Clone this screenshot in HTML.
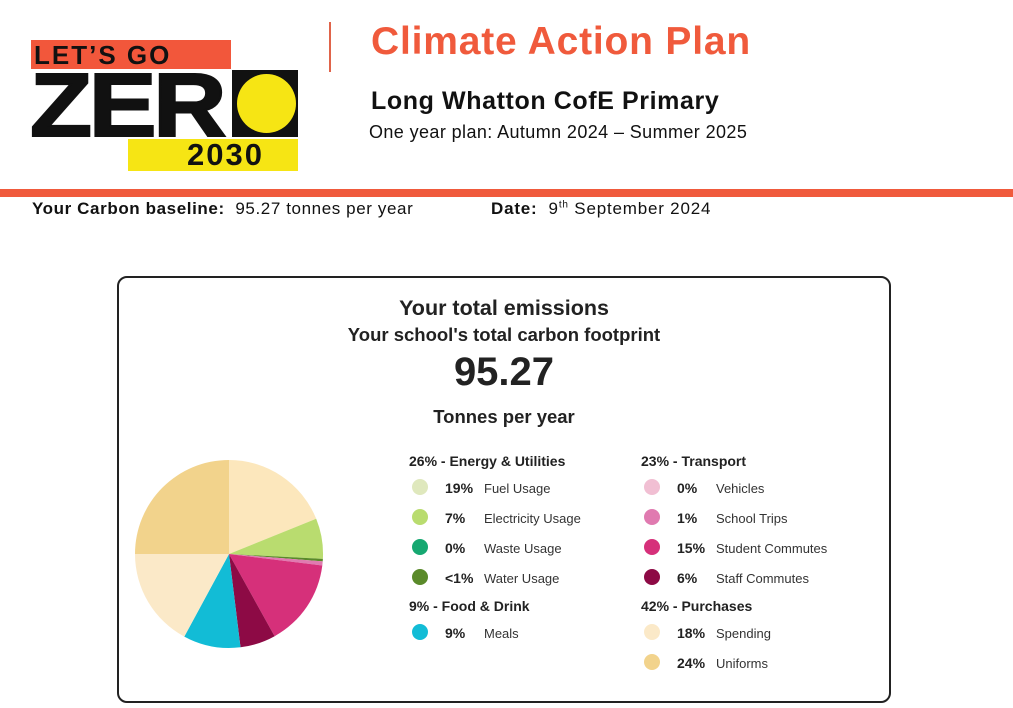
<!DOCTYPE html>
<html><head><meta charset="utf-8"><style>
body{margin:0;width:1013px;height:708px;background:#fff;position:relative;overflow:hidden;font-family:"Liberation Sans",sans-serif;color:#111}
.a{position:absolute;white-space:nowrap}
.b{font-weight:bold}
.h{font-size:14px;font-weight:bold;color:#222}
.p{font-size:14px;font-weight:bold;color:#222}
.l{font-size:13px;color:#333}
.d{position:absolute;width:16px;height:16px;border-radius:50%}
</style></head><body>
<!-- logo -->
<div class="a" style="left:31px;top:40px;width:200px;height:29px;background:#f2573b"></div>
<div class="a b" style="left:34px;top:40px;font-size:26px;letter-spacing:2px">LET’S GO</div>
<div class="a b" style="left:30px;top:61px;font-size:90px;line-height:90px;letter-spacing:-3px;transform:scaleX(1.13);transform-origin:left;-webkit-text-stroke:2px #111">ZER</div>
<div class="a" style="left:232px;top:70px;width:66px;height:67px;background:#111"></div>
<div class="a" style="left:237px;top:74px;width:59px;height:59px;border-radius:50%;background:#f6e514"></div>
<div class="a" style="left:128px;top:139px;width:170px;height:32px;background:#f6e514"></div>
<div class="a b" style="left:187px;top:137px;font-size:31px;letter-spacing:2px">2030</div>
<div class="a" style="left:329px;top:22px;width:2px;height:50px;background:#e0644a"></div>
<div class="a b" style="left:371px;top:20px;font-size:39px;letter-spacing:0.8px;color:#f05a3c">Climate Action Plan</div>
<div class="a b" style="left:371px;top:87px;font-size:25px;letter-spacing:0.6px">Long Whatton CofE Primary</div>
<div class="a" style="left:369px;top:122px;font-size:18px;letter-spacing:0.4px">One year plan: Autumn 2024 – Summer 2025</div>
<div class="a" style="left:0;top:189px;width:1013px;height:8px;background:#f05a3c"></div>
<div class="a" style="left:32px;top:199px;font-size:17px;letter-spacing:0.6px"><b>Your Carbon baseline:</b>&nbsp;&nbsp;95.27 tonnes per year</div>
<div class="a" style="left:491px;top:199px;font-size:17px;letter-spacing:0.8px"><b>Date:</b>&nbsp;&nbsp;9<sup style="font-size:10px">th</sup> September 2024</div>
<!-- box -->
<div class="a" style="left:117px;top:276px;width:770px;height:423px;border:2px solid #222;border-radius:10px"></div>
<div class="a b" style="left:0;width:1008px;text-align:center;top:296px;font-size:21.5px;color:#222">Your total emissions</div>
<div class="a b" style="left:0;width:1008px;text-align:center;top:324px;font-size:18.5px;color:#222">Your school's total carbon footprint</div>
<div class="a b" style="left:0;width:1008px;text-align:center;top:350px;font-size:40px;color:#222">95.27</div>
<div class="a b" style="left:0;width:1008px;text-align:center;top:406px;font-size:18.5px;color:#222">Tonnes per year</div>
<svg class="a" style="left:0;top:0" width="1013" height="708">
<path d="M229 554 L229 460 A94 94 0 0 1 316.2 518.8Z" fill="#fce7bc"/>
<path d="M229 554 L316.2 518.8 A94 94 0 0 1 322.9 558.9Z" fill="#b9dc6f"/>
<path d="M229 554 L322.9 558.9 A94 94 0 0 1 322.7 561.4Z" fill="#5a8a2a"/>
<path d="M229 554 L322.7 561.4 A94 94 0 0 1 322.3 565.5Z" fill="#e07ab0"/>
<path d="M229 554 L322.3 565.5 A94 94 0 0 1 274.6 636.2Z" fill="#d6307a"/>
<path d="M229 554 L274.6 636.2 A94 94 0 0 1 240.5 647.3Z" fill="#8d0a45"/>
<path d="M229 554 L240.5 647.3 A94 94 0 0 1 184.3 636.6Z" fill="#12bcd6"/>
<path d="M229 554 L184.3 636.6 A94 94 0 0 1 135 554Z" fill="#fbe9c8"/>
<path d="M229 554 L135 554 A94 94 0 0 1 229 460Z" fill="#f2d38c"/>
</svg>
<div class="a h" style="left:409px;top:453px">26% - Energy &amp; Utilities</div>
<div class="a h" style="left:641px;top:453px">23% - Transport</div>
<div class="a h" style="left:409px;top:598px">9% - Food &amp; Drink</div>
<div class="a h" style="left:641px;top:598px">42% - Purchases</div>

<div class="d" style="left:412px;top:479px;background:#dfe8bd"></div><div class="a p" style="left:445px;top:480px">19%</div><div class="a l" style="left:484px;top:481px">Fuel Usage</div>
<div class="d" style="left:412px;top:509px;background:#b9dc6f"></div><div class="a p" style="left:445px;top:510px">7%</div><div class="a l" style="left:484px;top:511px">Electricity Usage</div>
<div class="d" style="left:412px;top:539px;background:#16a871"></div><div class="a p" style="left:445px;top:540px">0%</div><div class="a l" style="left:484px;top:541px">Waste Usage</div>
<div class="d" style="left:412px;top:569px;background:#5a8a2a"></div><div class="a p" style="left:445px;top:570px">&lt;1%</div><div class="a l" style="left:484px;top:571px">Water Usage</div>
<div class="d" style="left:412px;top:624px;background:#12bcd6"></div><div class="a p" style="left:445px;top:625px">9%</div><div class="a l" style="left:484px;top:626px">Meals</div>

<div class="d" style="left:644px;top:479px;background:#f1bfd3"></div><div class="a p" style="left:677px;top:480px">0%</div><div class="a l" style="left:716px;top:481px">Vehicles</div>
<div class="d" style="left:644px;top:509px;background:#e07ab0"></div><div class="a p" style="left:677px;top:510px">1%</div><div class="a l" style="left:716px;top:511px">School Trips</div>
<div class="d" style="left:644px;top:539px;background:#d6307a"></div><div class="a p" style="left:677px;top:540px">15%</div><div class="a l" style="left:716px;top:541px">Student Commutes</div>
<div class="d" style="left:644px;top:569px;background:#8d0a45"></div><div class="a p" style="left:677px;top:570px">6%</div><div class="a l" style="left:716px;top:571px">Staff Commutes</div>
<div class="d" style="left:644px;top:624px;background:#fbe9c8"></div><div class="a p" style="left:677px;top:625px">18%</div><div class="a l" style="left:716px;top:626px">Spending</div>
<div class="d" style="left:644px;top:654px;background:#f2d38c"></div><div class="a p" style="left:677px;top:655px">24%</div><div class="a l" style="left:716px;top:656px">Uniforms</div>
</body></html>
